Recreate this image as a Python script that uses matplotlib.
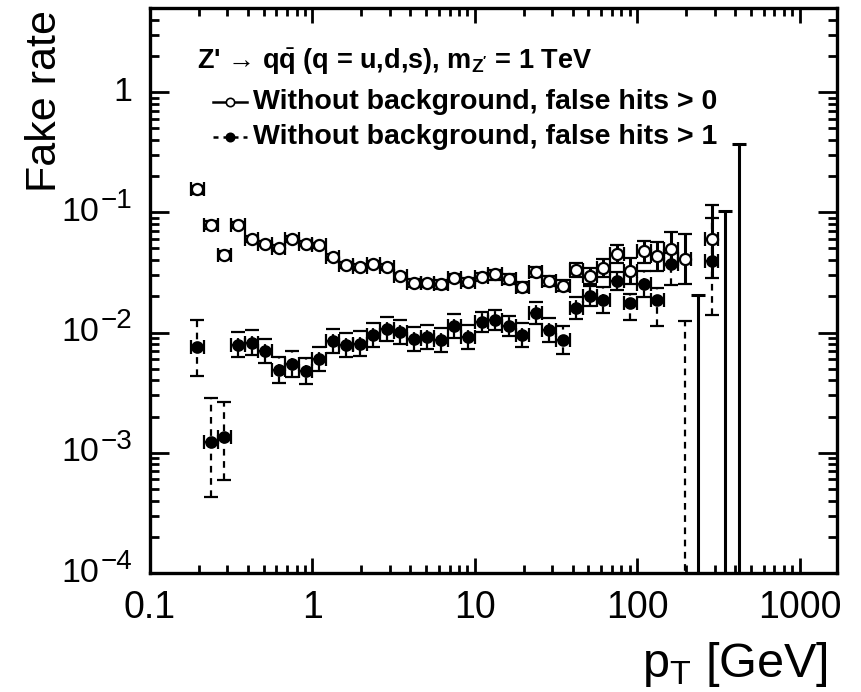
import numpy as np
import matplotlib
matplotlib.use("Agg")
import matplotlib.pyplot as plt
import matplotlib.transforms as mtransforms
from matplotlib.lines import Line2D

plt.rcParams["font.family"] = ["Liberation Sans", "DejaVu Sans"]
plt.rcParams["mathtext.fontset"] = "custom"
plt.rcParams["mathtext.rm"] = "Liberation Sans"
plt.rcParams["mathtext.it"] = "Liberation Sans:italic"
plt.rcParams["mathtext.bf"] = "Liberation Sans:bold"

# pT bin centres [GeV], 12 log bins per decade
pt = [0.196, 0.237, 0.287, 0.348, 0.422, 0.511, 0.619, 0.750, 0.909, 1.10,
      1.33, 1.62, 1.96, 2.37, 2.87, 3.48, 4.22, 5.11, 6.19, 7.50,
      9.09, 11.0, 13.3, 16.2, 19.6, 23.7, 28.7, 34.8, 42.2, 51.1,
      61.9, 75.0, 90.9, 110, 133, 162, 196, 237, 287, 348, 422]

nan = np.nan

# false hits > 0 : value, lower and upper end of error bar (0 = empty bin)
hits0 = [0.155, 0.078, 0.0438, 0.079, 0.060, 0.055, 0.0508, 0.0596, 0.055, 0.053,
         0.0427, 0.0362, 0.0353, 0.0369, 0.0353, 0.0295, 0.0259, 0.0256, 0.0251, 0.0285,
         0.0264, 0.0291, 0.0304, 0.0277, 0.024, 0.0318, 0.0268, 0.0246, 0.033, 0.0295,
         0.0346, 0.0447, 0.0324, 0.0476, 0.0432, 0.0492, 0.0411, 0, 0.0596, 0, 0]
hits0_lo = [0.143, 0.072, 0.0406, 0.0746, 0.0567, 0.052, 0.048, 0.0563, 0.052, 0.050,
            0.0403, 0.0342, 0.0333, 0.0348, 0.0333, 0.0279, 0.024, 0.0237, 0.0232, 0.0264,
            0.0244, 0.0269, 0.0276, 0.0252, 0.0218, 0.0289, 0.0244, 0.022, 0.0288, 0.0253,
            0.0291, 0.0376, 0.0253, 0.0381, 0.0324, 0.0362, 0.0251, 0, 0.0285, 0, 0]
hits0_hi = [0.167, 0.084, 0.0473, 0.0837, 0.0635, 0.058, 0.0538, 0.0631, 0.058, 0.056,
            0.0452, 0.0383, 0.0374, 0.039, 0.0374, 0.0312, 0.028, 0.0276, 0.0271, 0.0308,
            0.0285, 0.0314, 0.0334, 0.0305, 0.0264, 0.035, 0.0295, 0.0276, 0.0378, 0.0344,
            0.0411, 0.0531, 0.0416, 0.0577, 0.0566, 0.0686, 0.0656, 0.0205, 0.114, 0.103, 0.369]

# false hits > 1
hits1 = [0.00755, 0.00123, 0.00134, 0.00794, 0.0082, 0.00699, 0.00492, 0.00548, 0.00476, 0.00604,
         0.00847, 0.00784, 0.0081, 0.00962, 0.01074, 0.01007, 0.00886, 0.0092, 0.00863, 0.0113,
         0.0092, 0.0122, 0.0127, 0.0114, 0.00962, 0.0146, 0.01045, 0.00863, 0.0161, 0.0201,
         0.0186, 0.0268, 0.0177, 0.0251, 0.0186, 0.0369, 0, nan, 0.0393, nan, nan]
hits1_lo = [0.00438, 0.000432, 0.000596, 0.00625, 0.00645, 0.00555, 0.00383, 0.00427, 0.00371, 0.0048,
            0.00673, 0.00623, 0.00643, 0.00764, 0.00853, 0.008, 0.00704, 0.00731, 0.00685, 0.00897,
            0.00731, 0.01007, 0.01048, 0.0094, 0.00764, 0.01182, 0.0083, 0.0066, 0.01304, 0.01658,
            0.0145, 0.02254, 0.01277, 0.01956, 0.0113, 0.0247, 0, nan, 0.0141, nan, nan]
hits1_hi = [0.0128, 0.00286, 0.00262, 0.0101, 0.0104, 0.0088, 0.00631, 0.00703, 0.00611, 0.0076,
            0.01066, 0.00987, 0.0102, 0.0121, 0.0135, 0.01268, 0.01115, 0.01158, 0.01087, 0.01423,
            0.01158, 0.01479, 0.01539, 0.01382, 0.0121, 0.01803, 0.01316, 0.01129, 0.01988, 0.02436,
            0.02386, 0.03187, 0.02105, 0.0322, 0.0234, 0.0456, 0.0124, nan, 0.09, nan, nan]

x_ticks = [0.1, 1, 10, 100, 1000]
x_labels = ["0.1", "1", "10", "100", "1000"]
y_exponents = [-4, -3, -2, -1]

YMIN, YMAX = 1e-4, 5
XMIN, XMAX = 0.1, 1700

pt = np.array(pt)
# bin edges halfway (in log) between neighbouring centres
mid = np.sqrt(pt[:-1] * pt[1:])
edges = np.concatenate([[pt[0] ** 2 / mid[0]], mid, [pt[-1] ** 2 / mid[-1]]])
xlo = pt - edges[:-1]
xhi = edges[1:] - pt


def draw(ax, val, lo, hi, filled, dashed):
    val, lo, hi = np.array(val), np.array(lo), np.array(hi)
    ok = val > 0
    lw = 1.6 if dashed else 2.2
    style = dict(ecolor="black", elinewidth=lw, capsize=5, capthick=lw)
    eb = ax.errorbar(pt[ok], val[ok],
                     xerr=[xlo[ok], xhi[ok]],
                     yerr=[val[ok] - lo[ok], hi[ok] - val[ok]],
                     fmt="o", ms=7.5 if filled else 8,
                     mfc="black" if filled else "white", mec="black", mew=1.6,
                     zorder=3 if filled else 4, **style)
    # empty bins: only the upper error reaching down out of the frame
    zero = val == 0
    ez = ax.errorbar(pt[zero], hi[zero], yerr=[hi[zero] - 1e-6, np.zeros(zero.sum())],
                     fmt="none", zorder=2, **style)
    if dashed:
        for coll in list(eb[2]) + list(ez[2]):
            coll.set_linestyle((0, (3, 2.5)))


fig = plt.figure(figsize=(8.62, 6.92), dpi=100)
ax = fig.add_axes([150 / 862, 1 - 573 / 692, 687 / 862, 565 / 692])
ax.set_xscale("log")
ax.set_yscale("log")

draw(ax, hits1, hits1_lo, hits1_hi, filled=True, dashed=True)
draw(ax, hits0, hits0_lo, hits0_hi, filled=False, dashed=False)

ax.set_xlim(XMIN, XMAX)
ax.set_ylim(YMIN, YMAX)
ax.set_xticks(x_ticks)
ax.set_xticklabels(x_labels)
ax.set_yticks([10.0 ** e for e in y_exponents] + [1])
ax.set_yticklabels([])

for s in ax.spines.values():
    s.set_linewidth(2.4)
ax.tick_params(which="both", direction="in", top=True, right=True, width=2)
ax.tick_params(axis="y", which="major", length=14)
ax.tick_params(axis="y", which="minor", length=6.5)
ax.tick_params(axis="x", which="major", length=11, pad=12, labelsize=27)
ax.tick_params(axis="x", which="minor", length=5.5)

# y labels as 10 with a raised exponent
blend = mtransforms.blended_transform_factory(ax.transAxes, ax.transData)
for e in y_exponents:
    sup = ax.annotate("\u2212%d" % -e, xy=(0, 10.0 ** e), xycoords=blend,
                      xytext=(-13, 8), textcoords="offset points",
                      ha="right", va="center", fontsize=20)
    ax.annotate("10", xy=(0, 0.5), xycoords=sup, xytext=(-0.5, -8),
                textcoords="offset points", ha="right", va="center", fontsize=24.5)
ax.annotate("1", xy=(0, 1), xycoords=blend, xytext=(-13, 0), textcoords="offset points",
            ha="right", va="center", fontsize=24.5)

fig.text(45 / 862, 1 - 10 / 692, "Fake rate", rotation=90, ha="center", va="top",
         fontsize=31)
fig.text(828 / 862, 3 / 692, "p$_{\\rm T}$ [GeV]", ha="right", va="bottom", fontsize=35)

# legend block
ax.text(0.068, 0.904, "Z' \u2192 q$\\bar{\\mathbf{q}}$ (q = u,d,s), m$_{\\mathbf{Z'}}$ = 1 TeV",
        transform=ax.transAxes, fontsize=19.5, fontweight="bold", va="center")
entries = [("Without background, false hits > 0", 0.834, "-", "white"),
           ("Without background, false hits > 1", 0.772, (0, (2, 2)), "black")]
for label, yy, ls, fc in entries:
    ax.add_line(Line2D([0.092, 0.141], [yy, yy], transform=ax.transAxes, color="black",
                       lw=1.8, ls=ls))
    ax.add_line(Line2D([0.1165], [yy], transform=ax.transAxes, marker="o", ms=6,
                       mfc=fc, mec="black", mew=1.2))
    ax.text(0.150, yy, label, transform=ax.transAxes, fontsize=20.5, fontweight="bold",
            va="center")

fig.savefig("out.png", dpi=100)
